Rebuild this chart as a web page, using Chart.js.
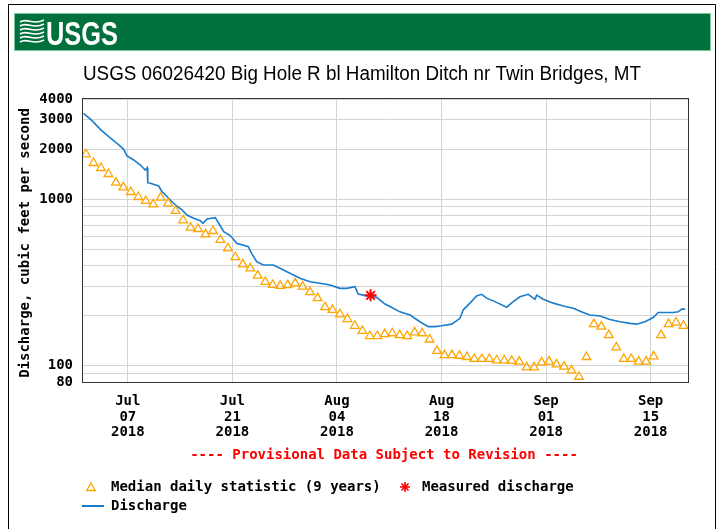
<!DOCTYPE html>
<html><head><meta charset="utf-8">
<script src="https://cdn.jsdelivr.net/npm/chart.js@4/dist/chart.umd.min.js"></script>
<style>html,body{margin:0;padding:0;background:#fff;overflow:hidden}#wrap{width:718px;height:529px;position:relative}</style>
</head><body><div id="wrap"><canvas id="c" width="718" height="529"></canvas></div>
<script>
// ---- data (x = days since Jul 1 2018 00:00) ----
const titleText = 'USGS 06026420 Big Hole R bl Hamilton Ditch nr Twin Bridges, MT';
const yAxisTitle = 'Discharge, cubic feet per second';
const provisionalText = '---- Provisional Data Subject to Revision ----';
const legendMedian = 'Median daily statistic (9 years)';
const legendMeasured = 'Measured discharge';
const legendDischarge = 'Discharge';

const medianValues = [
  1863,1651,1541,1418,1258,1180,1106,1032,977,933,
  1023,946,851,748,675,663,616,645,570,508,
  449,407,385,348,319,306,302,305,313,299,
  277,255,225,217,204,191,174,162,151,151,
  155,157,153,151,159,157,144,123,116,116,
  115,113,110,110,110,108,108,107,106,98,
  98,105,106,102,99,94,86,113,178,172,
  153,129,110,110,106,106,114,153,178,182,
  174
];
const dischargeDays = [
  0.09,1.2,2.32,3.44,4.55,5.45,5.89,6.79,7.67,8.34,8.61,8.67,9.01,10.13,10.58,11.47,12.36,13.25,13.92,14.82,
  15.70,16.06,16.60,17.71,18.17,18.84,19.72,20.58,22.13,22.58,23.25,24.14,25.48,26.37,27.71,29.05,30.39,31.73,33.07,34.40,
  35.30,36.41,36.85,37.98,39.32,40.43,41.10,42.44,43.78,45.11,46.22,47.12,48.02,49.36,50.47,50.91,51.81,52.70,53.37,54.04,
  55.15,56.72,57.60,58.50,59.61,60.51,60.74,61.62,62.96,64.30,65.64,66.97,67.87,69.21,70.55,71.89,73.23,74.12,75.23,76.35,
  77.01,78.14,79.02,79.69,80.15,80.62
];
const dischargeValues = [
  3283,2964,2631,2375,2169,1996,1819,1722,1606,1499,1548,1258,1248,1202,1111,1014,924,863,805,769,
  744,718,762,776,718,639,606,544,519,474,422,403,403,385,360,336,320,313,306,292,
  292,299,270,263,258,235,227,211,202,184,172,172,174,178,193,217,238,263,269,255,
  243,225,243,260,269,251,266,251,238,229,222,209,202,199,190,184,180,178,184,195,
  209,209,209,211,219,219
];
const measuredDays = [38.5];
const measuredValues = [265];

const xTickDays = [6, 20, 34, 48, 62, 76];
const xTickLabels = [['Jul','07','2018'],['Jul','21','2018'],['Aug','04','2018'],['Aug','18','2018'],['Sep','01','2018'],['Sep','15','2018']];
const yGridValues = [80,90,100,200,300,400,500,600,700,800,900,1000,2000,3000,4000];
const yLabelValues = [80,100,1000,2000,3000,4000];

// ---- styles ----
const MONO = '"DejaVu Sans Mono","Liberation Mono",monospace';
const BLUE = '#1a7dcc';
const ORANGE = '#ffa500';
const RED = '#ff0000';
const GRID = '#d4d4d4';

const medianPoints = medianValues.map((v, i) => ({x: i + 0.4, y: v}));
const dischargePoints = dischargeDays.map((d, i) => ({x: d, y: dischargeValues[i]}));
const measuredPoints = measuredDays.map((d, i) => ({x: d, y: measuredValues[i]}));

function drawTri(c, x, y, r, color, lw) {
  c.save(); c.strokeStyle = color; c.lineWidth = lw; c.beginPath();
  for (let k = 0; k < 3; k++) {
    const a = k * 2 * Math.PI / 3;
    const px = x + Math.sin(a) * r, py = y - Math.cos(a) * r;
    if (k === 0) c.moveTo(px, py); else c.lineTo(px, py);
  }
  c.closePath(); c.stroke(); c.restore();
}
function drawStar(c, x, y, r, color, lw) {
  c.save(); c.strokeStyle = color; c.lineWidth = lw; c.beginPath();
  for (let k = 0; k < 4; k++) {
    const a = k * Math.PI / 4;
    c.moveTo(x - Math.cos(a) * r, y - Math.sin(a) * r);
    c.lineTo(x + Math.cos(a) * r, y + Math.sin(a) * r);
  }
  c.stroke(); c.restore();
}

const decor = {
  id: 'decor',
  beforeDraw(chart) {
    const c = chart.ctx;
    c.save();
    c.fillStyle = '#fff'; c.fillRect(0, 0, 718, 529);
    // outer frame
    c.strokeStyle = '#000'; c.lineWidth = 1;
    c.beginPath(); c.moveTo(8.5, 529); c.lineTo(8.5, 4.5); c.lineTo(715.5, 4.5); c.lineTo(715.5, 529); c.stroke();
    // banner
    c.fillStyle = '#00703c'; c.fillRect(14, 13, 697, 38);
    c.strokeStyle = '#7cc79c'; c.lineWidth = 1; c.strokeRect(14.5, 13.5, 696, 37);
    // wave icon
    c.strokeStyle = '#fff'; c.lineWidth = 1.6;
    for (let k = 0; k < 6; k++) {
      const y0 = 21 + k * 4;
      c.beginPath(); c.moveTo(20, y0 + 1);
      c.bezierCurveTo(27, y0 - 4, 33, y0 + 5, 44, y0 - 1);
      c.stroke();
    }
    // USGS text
    c.fillStyle = '#fff';
    c.font = 'bold 34px "Liberation Sans Narrow","Liberation Sans",Arial,sans-serif';
    c.textBaseline = 'alphabetic'; c.textAlign = 'left';
    const w = c.measureText('USGS').width;
    c.save(); c.translate(46, 45); c.scale(72 / w, 1); c.fillText('USGS', 0, 0); c.restore();
    // title
    c.fillStyle = '#000';
    c.font = '20px "Liberation Sans",Arial,sans-serif';
    const tw = c.measureText(titleText).width;
    c.save(); c.translate(362, 80); c.scale(558 / tw, 1); c.textAlign = 'center'; c.fillText(titleText, 0, 0); c.restore();
    c.restore();
  },
  afterDraw(chart) {
    const c = chart.ctx, a = chart.chartArea;
    c.save();
    // plot border
    c.strokeStyle = '#333'; c.lineWidth = 1;
    c.strokeRect(Math.round(a.left) - 0.5, Math.round(a.top) - 0.5, Math.round(a.right - a.left) + 1, Math.round(a.bottom - a.top) + 1);
    // y axis title
    c.fillStyle = '#000'; c.font = 'bold 14px ' + MONO;
    c.textAlign = 'center'; c.textBaseline = 'middle';
    c.save(); c.translate(25, 243); c.rotate(-Math.PI / 2); c.fillText(yAxisTitle, 0, 0); c.restore();
    // provisional
    c.fillStyle = RED; c.fillText(provisionalText, 384, 455);
    // legend
    c.textAlign = 'left'; c.fillStyle = '#000';
    drawTri(c, 91, 488, 5, ORANGE, 1.3);
    c.fillText(legendMedian, 111, 487);
    drawStar(c, 405, 487, 5, RED, 1.6);
    c.fillText(legendMeasured, 422, 487);
    c.strokeStyle = BLUE; c.lineWidth = 2;
    c.beginPath(); c.moveTo(82, 506); c.lineTo(104, 506); c.stroke();
    c.fillText(legendDischarge, 111, 506);
    c.restore();
  }
};

new Chart(document.getElementById('c'), {
  type: 'line',
  data: {
    datasets: [
      {label: legendMeasured, data: measuredPoints, showLine: false, pointStyle: 'star', pointRadius: 6,
       pointBorderColor: RED, pointBorderWidth: 2, pointBackgroundColor: RED},
      {label: legendMedian, data: medianPoints, showLine: false, pointStyle: 'triangle', pointRadius: 5,
       pointBorderColor: ORANGE, pointBorderWidth: 1.3, pointBackgroundColor: 'rgba(255,255,255,0)'},
      {label: legendDischarge, data: dischargePoints, borderColor: BLUE, borderWidth: 1.6, pointRadius: 0, tension: 0, fill: false}
    ]
  },
  options: {
    responsive: false, animation: false, devicePixelRatio: 1,
    layout: {padding: {left: 0, top: 99, right: 30, bottom: 0}},
    plugins: {legend: {display: false}, title: {display: false}, tooltip: {enabled: false}},
    scales: {
      x: {
        type: 'linear', min: 0, max: 81,
        afterBuildTicks: s => { s.ticks = xTickDays.map(v => ({value: v})); },
        afterFit: s => { s.height = 147; },
        grid: {color: GRID, lineWidth: 1, drawTicks: false},
        border: {display: false},
        ticks: {
          autoSkip: false, maxRotation: 0, padding: 12, color: '#000',
          font: {family: MONO, size: 14, weight: 'bold', lineHeight: 1.1},
          callback: (v) => { const i = xTickDays.indexOf(v); return i >= 0 ? xTickLabels[i] : ''; }
        }
      },
      y: {
        type: 'logarithmic', min: 80, max: 4000,
        afterBuildTicks: s => { s.ticks = yGridValues.map(v => ({value: v})); },
        afterFit: s => { s.width = 83; },
        grid: {color: GRID, lineWidth: 1, drawTicks: false},
        border: {display: false},
        ticks: {
          autoSkip: false, padding: 10, color: '#000',
          font: {family: MONO, size: 14, weight: 'bold'},
          callback: (v) => yLabelValues.includes(v) ? String(v) : ''
        }
      }
    }
  },
  plugins: [decor]
});
</script>
</body></html>
